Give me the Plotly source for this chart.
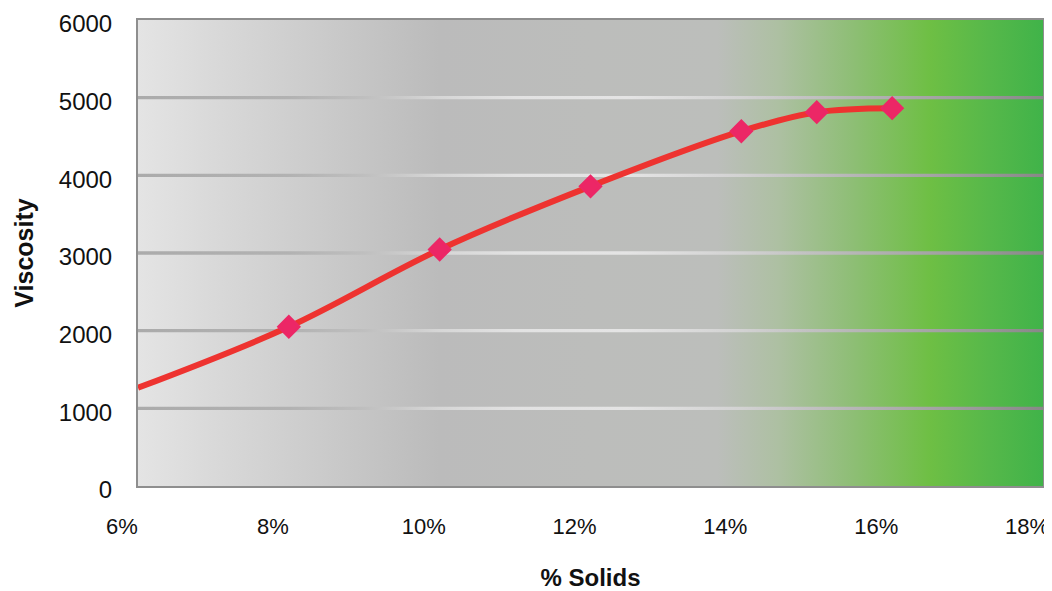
import plotly.graph_objects as go

# ---- data ----
solids_line = [6, 8, 10, 12, 14, 15, 16]            # % solids (curve)
viscosity_line = [1265, 2050, 3045, 3858, 4568, 4813, 4865]
solids_pts = [8, 10, 12, 14, 15, 16]                # % solids (markers)
viscosity_pts = [2050, 3045, 3858, 4568, 4813, 4865]

x_ticks = [6, 8, 10, 12, 14, 16, 18]
x_labels = ["6%", "8%", "10%", "12%", "14%", "16%", "18%"]
y_ticks = [0, 1000, 2000, 3000, 4000, 5000, 6000]
y_labels = ["0", "1000", "2000", "3000", "4000", "5000", "6000"]

X_MIN, X_MAX = 6, 18
Y_MIN, Y_MAX = 0, 6000

FONT = "Liberation Sans, Arial, Helvetica, sans-serif"

# background gradient stops (fraction across plot, colour)
bg_scale = [
    [0.000, "#e4e4e4"],
    [0.083, "#d9d9d9"],
    [0.167, "#cfcfcf"],
    [0.250, "#c5c5c5"],
    [0.333, "#bbbbbb"],
    [0.500, "#bcbdbb"],
    [0.640, "#bcbebb"],
    [0.708, "#adc0a2"],
    [0.792, "#8dbe74"],
    [0.875, "#6ebf44"],
    [0.940, "#56b84a"],
    [1.000, "#40b349"],
]
grid_scale = [
    [0.000, "#ababab"],
    [0.167, "#b2b2b2"],
    [0.250, "#bfbfbf"],
    [0.333, "#d6d6d6"],
    [0.417, "#e2e2e2"],
    [0.540, "#e4e4e4"],
    [0.667, "#d2d2d2"],
    [0.792, "#b6b6b6"],
    [0.917, "#9c9c9c"],
    [1.000, "#888888"],
]

fig = go.Figure()

# plot-area gradient background
fig.add_trace(go.Scatter(
    x=[X_MIN, X_MAX, X_MAX, X_MIN, X_MIN],
    y=[Y_MIN, Y_MIN, Y_MAX, Y_MAX, Y_MIN],
    mode="none", fill="toself",
    fillgradient=dict(type="horizontal", colorscale=bg_scale),
    hoverinfo="skip", showlegend=False,
))

# gradient grid lines (thin bands at each inner y tick)
half = 21  # half band thickness in data units (~3px total)
gx, gy = [], []
for v in y_ticks[1:-1]:
    gx += [X_MIN, X_MAX, X_MAX, X_MIN, X_MIN, None]
    gy += [v - half, v - half, v + half, v + half, v - half, None]
fig.add_trace(go.Scatter(
    x=gx, y=gy, mode="none", fill="toself",
    fillgradient=dict(type="horizontal", colorscale=grid_scale),
    hoverinfo="skip", showlegend=False,
))

# smooth curve
fig.add_trace(go.Scatter(
    x=solids_line, y=viscosity_line, mode="lines",
    line=dict(color="#ee3330", width=6, shape="spline", smoothing=1.0),
    hoverinfo="skip", showlegend=False,
))
# diamond markers
fig.add_trace(go.Scatter(
    x=solids_pts, y=viscosity_pts, mode="markers",
    marker=dict(symbol="diamond", size=16, color="#ec2766",
                line=dict(color="#ec2766", width=2.5)),
    showlegend=False,
))

# the page body adds an 8px offset, so the figure is sized to the remaining room
fig.update_layout(
    width=1044, height=583,
    margin=dict(l=130, r=9, t=12, b=105),
    paper_bgcolor="white", plot_bgcolor="white",
    font=dict(family=FONT, size=23, color="#111111"),
    showlegend=False,
)
fig.update_xaxes(
    range=[X_MIN, X_MAX], tickvals=x_ticks, ticktext=x_labels,
    tickfont=dict(size=22),
    showgrid=False, zeroline=False, ticks="",
    showline=True, mirror=True, linecolor="#8e8e8e", linewidth=2,
    ticklabelstandoff=20, ticklabelshift=-16, ticklabeloverflow="allow",
    automargin=False,
    title=dict(text="<b>% Solids</b>", font=dict(size=24, family=FONT, color="#111111"), standoff=44),
)
fig.update_yaxes(
    range=[Y_MIN, Y_MAX], tickvals=y_ticks, ticktext=y_labels,
    tickfont=dict(size=24),
    showgrid=False, zeroline=False, ticks="",
    showline=True, mirror=True, linecolor="#8e8e8e", linewidth=2,
    ticklabelstandoff=19, ticklabelshift=4, ticklabeloverflow="allow",
    automargin=False,
    title=dict(text="<b>Viscosity</b>", font=dict(size=25, family=FONT, color="#111111"), standoff=18),
)

fig.write_html("out.html")
